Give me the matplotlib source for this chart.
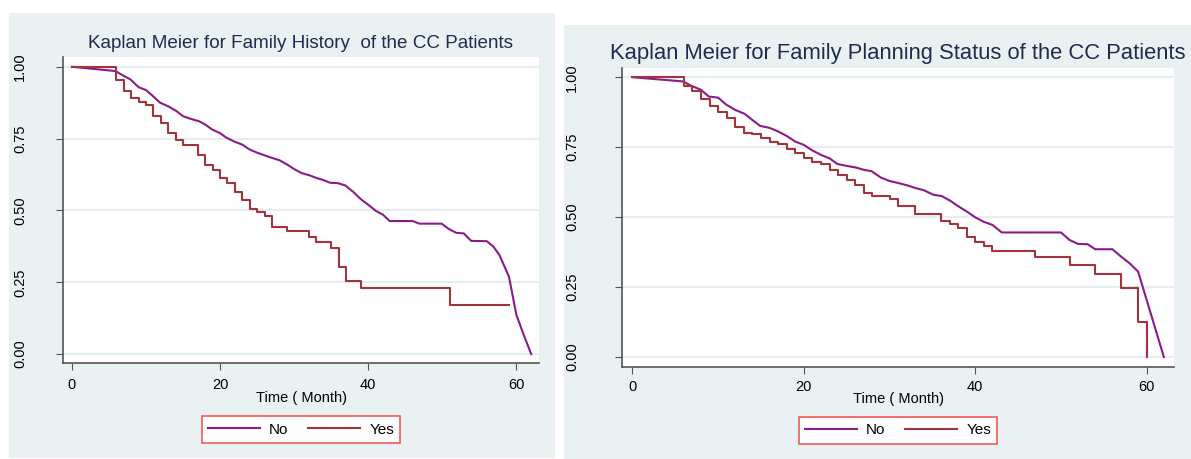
import matplotlib.pyplot as plt
from matplotlib.patches import Rectangle
from matplotlib.lines import Line2D

plt.rcParams['font.family'] = ['Liberation Sans', 'DejaVu Sans']

# Family History - No (drawn as connected line)
hist_no_t = [0, 5.9, 6.8, 7.9, 9.0, 10.0, 10.9, 11.9, 13.1, 14.1, 15.0, 16.0, 17.2, 18.0, 18.9,
             20.0, 20.8, 21.9, 23.0, 24.0, 25.0, 26.2, 27.1, 28.0, 29.1, 30.0, 31.0, 32.1, 33.0,
             33.9, 34.9, 35.9, 36.9, 38.0, 39.0, 40.0, 41.0, 42.0, 42.9, 46.0, 46.9, 49.9, 50.9,
             51.9, 52.9, 53.9, 56.0, 56.9, 57.7, 58.2, 59.0, 60.0, 61.0, 62.0]
hist_no_s = [1.0, 0.985, 0.971, 0.956, 0.929, 0.919, 0.899, 0.875, 0.861, 0.846, 0.828, 0.819,
             0.810, 0.799, 0.782, 0.769, 0.754, 0.740, 0.729, 0.712, 0.701, 0.690, 0.682, 0.675,
             0.659, 0.644, 0.630, 0.622, 0.613, 0.606, 0.596, 0.595, 0.587, 0.564, 0.539, 0.520,
             0.499, 0.485, 0.463, 0.463, 0.454, 0.454, 0.435, 0.422, 0.420, 0.394, 0.393, 0.374,
             0.345, 0.316, 0.269, 0.136, 0.066, 0.0]

# Family History - Yes (step)
hist_yes_t = [0, 6, 7, 8, 9, 10, 11, 12, 13, 14, 15, 17, 18, 19, 20, 21, 22, 23, 24, 25, 26, 27,
              29, 32, 33, 35, 36, 37, 39, 51, 59]
hist_yes_s = [1.0, 0.954, 0.917, 0.892, 0.877, 0.868, 0.828, 0.804, 0.770, 0.745, 0.729, 0.693,
              0.658, 0.640, 0.614, 0.594, 0.565, 0.536, 0.506, 0.494, 0.481, 0.443, 0.429, 0.408,
              0.391, 0.370, 0.302, 0.254, 0.230, 0.172, 0.172]

# Family Planning - No
plan_no_t = [0, 5.9, 6.9, 8.0, 8.9, 10.0, 10.9, 12.0, 13.1, 14.0, 14.9, 16.0, 17.0, 18.0, 19.0,
             20.0, 21.0, 22.1, 23.0, 23.9, 25.0, 26.1, 27.0, 27.9, 29.0, 30.0, 31.0, 32.1, 33.0,
             34.0, 35.1, 36.1, 37.1, 38.0, 39.1, 40.0, 41.0, 42.0, 43.1, 50.0, 51.0, 52.0, 53.1,
             54.0, 56.0, 57.0, 58.0, 59.0, 62.0]
plan_no_s = [1.0, 0.985, 0.969, 0.955, 0.931, 0.927, 0.903, 0.883, 0.869, 0.847, 0.826, 0.819,
             0.806, 0.790, 0.770, 0.758, 0.738, 0.721, 0.710, 0.690, 0.683, 0.677, 0.669, 0.664,
             0.641, 0.629, 0.622, 0.613, 0.604, 0.596, 0.580, 0.575, 0.558, 0.539, 0.518, 0.499,
             0.483, 0.472, 0.445, 0.445, 0.418, 0.404, 0.403, 0.385, 0.385, 0.359, 0.335, 0.305,
             0.0]

# Family Planning - Yes (step)
plan_yes_t = [0, 6, 7, 8, 9, 10, 11, 12, 13, 14, 15, 16, 17, 18, 19, 20, 21, 22, 23, 24, 25, 26,
              27, 28, 30, 31, 33, 36, 37, 38, 39, 40, 41, 42, 47, 51, 54, 57, 59, 60]
plan_yes_s = [1.0, 0.970, 0.951, 0.921, 0.897, 0.875, 0.853, 0.822, 0.801, 0.796, 0.784, 0.770,
              0.760, 0.745, 0.728, 0.713, 0.697, 0.688, 0.670, 0.651, 0.631, 0.613, 0.585, 0.577,
              0.566, 0.540, 0.511, 0.487, 0.476, 0.461, 0.427, 0.412, 0.397, 0.380, 0.356, 0.327,
              0.297, 0.248, 0.124, 0.0]

titles = ['Kaplan Meier for Family History  of the CC Patients',
          'Kaplan Meier for Family Planning Status of the CC Patients']
labels = ['No', 'Yes']
xticks = [0, 20, 40, 60]
yticks = [0.0, 0.25, 0.5, 0.75, 1.0]

W, H = 1191, 459
fig = plt.figure(figsize=(W / 100, H / 100), dpi=100)
fig.patch.set_facecolor('white')

panel_bg = '#eaf1f3'
no_col = '#8b1a8b'
yes_col = '#a3333d'

def px_rect(x0, y0, x1, y1):
    return [x0 / W, 1 - y1 / H, (x1 - x0) / W, (y1 - y0) / H]

# panel backgrounds
for (x0, y0, x1, y1) in [(9, 13, 555, 458), (564, 25, 1191, 459)]:
    fig.patches.append(Rectangle((x0 / W, 1 - y1 / H), (x1 - x0) / W, (y1 - y0) / H,
                                 transform=fig.transFigure, facecolor=panel_bg,
                                 edgecolor='none', zorder=-5))

specs = [
    dict(rect=px_rect(63, 57, 539, 363), xlim=(-1.2, 63.05), ylim=(-0.031, 1.034),
         data=(hist_no_t, hist_no_s, hist_yes_t, hist_yes_s), title=titles[0],
         title_xy=(301, 43), title_size=13.6, ypad=21, xpad=5.5,
         xlabel_y=398, leg=(204.6, 415, 397.7, 444)),
    dict(rect=px_rect(622.4, 68, 1173.7, 367), xlim=(-1.17, 63.15), ylim=(-0.036, 1.033),
         data=(plan_no_t, plan_no_s, plan_yes_t, plan_yes_s), title=titles[1],
         title_xy=(898, 53), title_size=15.8, ypad=26, xpad=4.5,
         xlabel_y=399, leg=(787, 417, 1008.7, 444)),
]

for sp in specs:
    ax = fig.add_axes(sp['rect'])
    ax.set_zorder(2)
    ax.set_facecolor('white')
    nt, ns, yt, ys = sp['data']
    ax.plot(nt, ns, color=no_col, lw=1.5, label=labels[0], zorder=3)
    ax.step(yt, ys, where='post', color=yes_col, lw=1.5, label=labels[1], zorder=3)
    ax.set_xlim(*sp['xlim'])
    ax.set_ylim(*sp['ylim'])
    ax.set_xticks(xticks)
    ax.set_yticks(yticks)
    ax.set_yticklabels(['0.00', '0.25', '0.50', '0.75', '1.00'], rotation=90, va='center')
    for g in yticks:
        ax.axhline(g, color='#e6eef1', lw=1.5, zorder=1)
    for s in ['top', 'right']:
        ax.spines[s].set_visible(False)
    for s in ['left', 'bottom']:
        ax.spines[s].set_color('#555555')
        ax.spines[s].set_linewidth(1.2)
    ax.tick_params(axis='y', direction='out', length=5, color='#555555', labelsize=10.5,
                   pad=sp['ypad'])
    ax.tick_params(axis='x', direction='out', length=5, color='#555555', labelsize=10.5,
                   pad=sp['xpad'])
    fig.text(sp['title_xy'][0] / W, 1 - sp['title_xy'][1] / H, sp['title'],
             ha='center', va='center', fontsize=sp['title_size'], color='#1e2d4f')
    cx = (sp['rect'][0] + sp['rect'][2] / 2)
    fig.text(cx, 1 - sp['xlabel_y'] / H, 'Time ( Month)', ha='center', va='center',
             fontsize=10.5, color='black')
    lx0, ly0, lx1, ly1 = sp['leg']
    handles = [Line2D([], [], color=no_col, lw=1.5), Line2D([], [], color=yes_col, lw=1.5)]
    leg = fig.legend(handles, labels, ncol=2, loc='center',
                     bbox_to_anchor=((lx0 + lx1) / 2 / W, 1 - (ly0 + ly1) / 2 / H),
                     fontsize=11, frameon=True, fancybox=False, handlelength=3.4,
                     handletextpad=0.6, columnspacing=1.3, borderpad=0.4)
    leg.set_zorder(3)
    fr = leg.get_frame()
    fr.set_edgecolor('#f25a5a')
    fr.set_facecolor('white')
    fr.set_alpha(1)
    fr.set_linewidth(1.2)

fig.savefig('out.png', dpi=100, facecolor='white')
